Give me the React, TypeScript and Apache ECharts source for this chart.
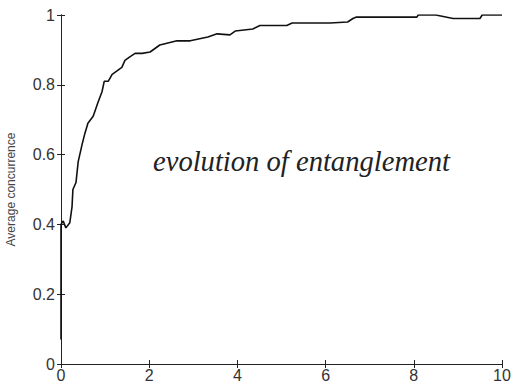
import React, { useEffect, useRef } from "react";
import * as echarts from "echarts";

const xTicks = [0, 2, 4, 6, 8, 10];
const yTicks = [0, 0.2, 0.4, 0.6, 0.8, 1];
const curveX = [0, 0, 0.05, 0.11, 0.2, 0.25, 0.27, 0.34, 0.39, 0.48, 0.54, 0.61, 0.73, 0.84, 0.93, 0.98, 1.07, 1.16, 1.27, 1.38, 1.45, 1.56, 1.68, 1.84, 2.02, 2.24, 2.63, 2.93, 3.33, 3.54, 3.83, 3.95, 4.35, 4.51, 5.12, 5.24, 5.87, 6.1, 6.5, 6.62, 6.7, 8.07, 8.1, 8.5, 8.89, 9.5, 9.55, 10];
const curveY = [0.07, 0.4, 0.41, 0.39, 0.405, 0.45, 0.5, 0.52, 0.58, 0.63, 0.66, 0.69, 0.71, 0.75, 0.78, 0.81, 0.81, 0.83, 0.84, 0.85, 0.87, 0.88, 0.89, 0.89, 0.894, 0.914, 0.926, 0.926, 0.937, 0.946, 0.943, 0.954, 0.96, 0.97, 0.97, 0.977, 0.977, 0.977, 0.98, 0.99, 0.994, 0.994, 1.0, 1.0, 0.99, 0.99, 1.0, 1.0];
const annotation = "evolution of entanglement";
const yName = "Average concurrence";

export default function App() {
  const ref = useRef<HTMLDivElement>(null);
  useEffect(() => {
    const chart = echarts.init(ref.current!, null, { renderer: "svg" });
    const axisLine = { show: true, lineStyle: { color: "#222", width: 1 } };
    const tickStyle = { show: true, inside: true, length: 4, lineStyle: { color: "#222", width: 1 } };
    chart.setOption({
      animation: false,
      grid: { left: 61, right: 11, top: 15, bottom: 22, containLabel: false, outerBoundsMode: "none" },
      xAxis: [
        {
          type: "value", min: 0, max: 10, interval: 2, position: "bottom",
          axisLine, axisTick: tickStyle, splitLine: { show: false },
          axisLabel: { color: "#333", fontSize: 16, fontFamily: "Liberation Sans", margin: 3,
            formatter: (v: number) => (xTicks.includes(v) ? String(v) : "") },
        },
        {
          type: "value", min: 0, max: 10, interval: 2, position: "top",
          axisLine, axisTick: tickStyle, splitLine: { show: false }, axisLabel: { show: false },
        },
      ],
      yAxis: [
        {
          type: "value", min: 0, max: 1, interval: 0.2, position: "left",
          axisLine, axisTick: tickStyle, splitLine: { show: false },
          name: yName, nameLocation: "middle", nameGap: 44, nameRotate: 90,
          nameTextStyle: { color: "#444", fontSize: 12, fontFamily: "Liberation Sans" },
          axisLabel: { color: "#333", fontSize: 16, fontFamily: "Liberation Sans", margin: 6,
            formatter: (v: number) => {
              const t = yTicks.find((k) => Math.abs(k - v) < 1e-6);
              return t === undefined ? "" : String(Number(t.toFixed(1)));
            } },
        },
        {
          type: "value", min: 0, max: 1, interval: 0.2, position: "right",
          axisLine, axisTick: tickStyle, splitLine: { show: false }, axisLabel: { show: false },
        },
      ],
      series: [
        {
          type: "line",
          data: curveX.map((x, i) => [x, curveY[i]]),
          showSymbol: false,
          lineStyle: { color: "#111", width: 1.6 },
        },
      ],
      graphic: [
        {
          type: "text", left: 153, top: 147,
          style: { text: annotation, fill: "#222", font: "italic 28.6px 'Liberation Serif'" },
        },
      ],
    });
    return () => chart.dispose();
  }, []);
  return <div ref={ref} style={{ width: 513, height: 386, position: "fixed", left: 0, top: 0, background: "#fff" }} />;
}
